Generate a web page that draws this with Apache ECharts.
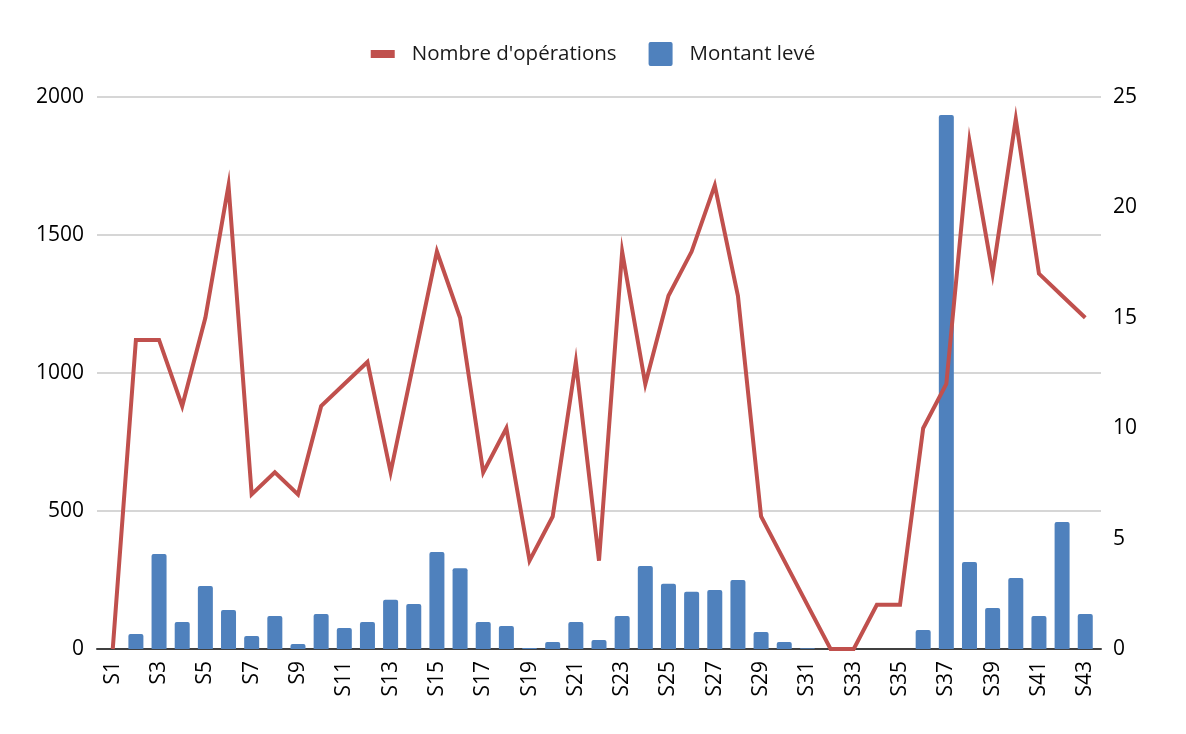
<!DOCTYPE html>
<html>
<head>
<meta charset="utf-8">
<script src="https://cdn.jsdelivr.net/npm/echarts@6/dist/echarts.min.js"></script>
<style>
  html, body { margin: 0; padding: 0; background: #fff; }
  #main { width: 1186px; height: 734px; }
</style>
</head>
<body>
<div id="main"></div>
<script>
var categories = [];
for (var n = 1; n <= 43; n++) categories.push('S' + n);

// nombre d'opérations (axe de droite)
var operations = [0, 14, 14, 11, 15, 21, 7, 8, 7, 11, 12, 13, 8, 13, 18, 15, 8, 10, 4, 6,
  13, 4, 18, 12, 16, 18, 21, 16, 6, 4, 2, 0, 0, 2, 2, 10, 12, 23, 17, 24, 17, 16, 15];

// montant levé (axe de gauche)
var montants = [0, 54, 344, 98, 228, 141, 47, 120, 18, 127, 76, 98, 178, 163, 351, 293, 98, 83, 4, 25,
  98, 33, 120, 301, 236, 207, 214, 250, 62, 25, 3, 0, 0, 0, 0, 69, 1935, 315, 149, 257, 120, 460, 127];

var leftTicks = [0, 500, 1000, 1500, 2000];
var rightTicks = [0, 5, 10, 15, 20, 25];
var labelIdx = [];
for (var k = 0; k < categories.length; k += 2) labelIdx.push(k);

function pairs(arr) {
  return arr.map(function (v, i) { return [i, v]; });
}
function plain(v) {
  return String(v);
}

var myChart = echarts.init(document.getElementById('main'));
var font = '"Open Sans", "Noto Sans", sans-serif';

myChart.setOption({
  animation: false,
  textStyle: { fontFamily: font },
  legend: {
    top: 37,
    left: 'center',
    itemWidth: 36,
    itemHeight: 24,
    itemGap: 32,
    textStyle: { fontSize: 20.5, color: '#1a1a1a', fontFamily: font },
    data: [
      { name: "Nombre d'opérations", icon: 'path://M0,0L0,0M0,8L24,8L24,16L0,16ZM36,24L36,24' },
      { name: 'Montant levé', icon: 'path://M0,0L0,0M2,0L22,0Q24,0 24,2L24,22Q24,24 22,24L2,24Q0,24 0,22L0,2Q0,0 2,0ZM36,24L36,24' }
    ]
  },
  grid: { left: 97, right: 85, top: 97, bottom: 85 },
  xAxis: {
    type: 'value',
    min: -0.68,
    max: 42.68,
    splitLine: { show: false },
    axisTick: { show: false },
    axisLine: { show: true, lineStyle: { color: '#404040', width: 2 } },
    axisLabel: {
      customValues: labelIdx,
      rotate: 90,
      margin: 12,
      fontSize: 21,
      color: '#000',
      fontFamily: font,
      formatter: function (v) { return categories[Math.round(v)]; }
    }
  },
  yAxis: [
    {
      type: 'value',
      min: leftTicks[0],
      max: leftTicks[leftTicks.length - 1],
      interval: 500,
      axisLine: { show: false },
      axisTick: { show: false },
      splitLine: { lineStyle: { color: '#c8c8c8', width: 1.5 } },
      axisLabel: { fontSize: 21, color: '#000', margin: 13, fontFamily: font, formatter: plain }
    },
    {
      type: 'value',
      min: rightTicks[0],
      max: rightTicks[rightTicks.length - 1],
      interval: 5,
      axisLine: { show: false },
      axisTick: { show: false },
      splitLine: { show: false },
      axisLabel: { fontSize: 21, color: '#000', margin: 12, fontFamily: font, formatter: plain }
    }
  ],
  series: [
    {
      name: 'Montant levé',
      type: 'bar',
      yAxisIndex: 0,
      barWidth: 15,
      itemStyle: { color: '#4f81bd', borderRadius: [2, 2, 0, 0] },
      data: pairs(montants),
      z: 2
    },
    {
      name: "Nombre d'opérations",
      type: 'line',
      yAxisIndex: 1,
      symbol: 'none',
      lineStyle: { color: '#c0504d', width: 4, join: 'miter' },
      itemStyle: { color: '#c0504d' },
      data: pairs(operations),
      z: 3
    }
  ]
});
</script>
</body>
</html>
